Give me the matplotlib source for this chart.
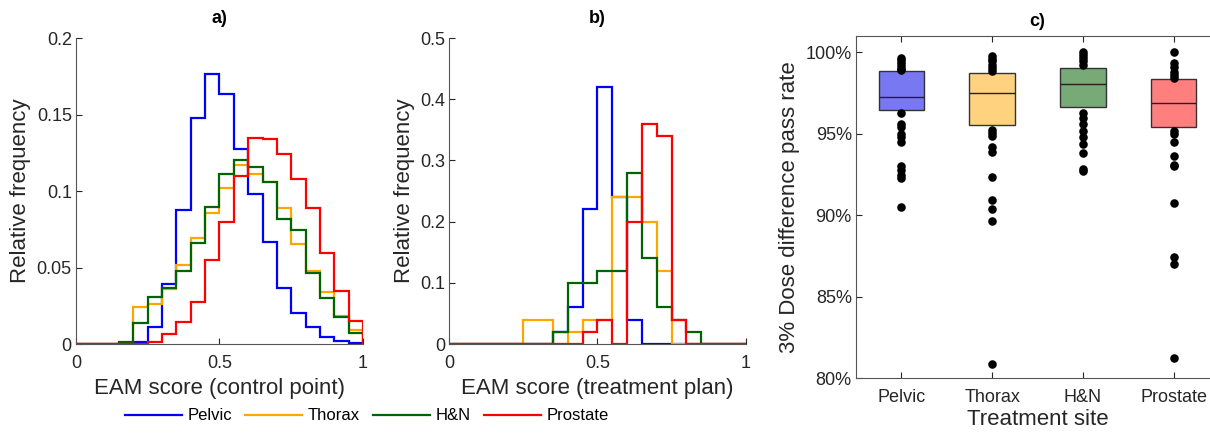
import matplotlib
matplotlib.use('Agg')
import matplotlib.pyplot as plt
import numpy as np

plt.rcParams['font.family'] = ['Liberation Sans', 'DejaVu Sans']

# histogram bins (0 .. 1, width 0.05)
edges = np.linspace(0, 1, 21)
sites = ['Pelvic', 'Thorax', 'H&N', 'Prostate']
line_colors = ['#0000ff', '#ffa500', '#006400', '#ff0000']
box_colors = ['#7878f2', '#ffd27f', '#78aa78', '#ff7f7f']

# a) relative frequency per control point
cp_pelvic = [0, 0, 0, 0, 0.0015, 0.0109, 0.039, 0.0878, 0.148, 0.1765,
             0.1635, 0.1276, 0.0983, 0.0667, 0.0367, 0.02, 0.0113, 0.0043, 0.0022, 0.0009]
cp_thorax = [0, 0, 0, 0, 0.0243, 0.0259, 0.0357, 0.0515, 0.0696, 0.0859,
             0.102, 0.1167, 0.111, 0.1059, 0.0891, 0.0652, 0.0478, 0.0341, 0.0183, 0.0091]
cp_hn = [0, 0, 0, 0.0015, 0.0139, 0.0309, 0.0363, 0.0476, 0.0657, 0.0896,
         0.1109, 0.12, 0.1157, 0.1059, 0.082, 0.0743, 0.0461, 0.0298, 0.0174, 0.007]
cp_prostate = [0, 0, 0, 0, 0, 0.001, 0.0063, 0.0141, 0.0276, 0.0552,
               0.0798, 0.1096, 0.1346, 0.1341, 0.1239, 0.108, 0.0889, 0.0598, 0.0348, 0.0152]

# b) relative frequency per treatment plan
tp_pelvic = [0, 0, 0, 0, 0, 0, 0, 0.02, 0.06, 0.22,
             0.42, 0.24, 0.04, 0, 0, 0, 0, 0, 0, 0]
tp_thorax = [0, 0, 0, 0, 0, 0.04, 0.04, 0, 0.02, 0.04,
             0.04, 0.24, 0.24, 0.2, 0.12, 0, 0, 0, 0, 0]
tp_hn = [0, 0, 0, 0, 0, 0, 0, 0.02, 0.1, 0.1,
         0.12, 0.12, 0.28, 0.14, 0.06, 0.04, 0.02, 0, 0, 0]
tp_prostate = [0, 0, 0, 0, 0, 0, 0, 0, 0, 0.02,
               0.04, 0, 0.2, 0.36, 0.34, 0.04, 0, 0, 0, 0]

# c) 3% dose difference pass rate: box (q1, median, q3) and single points
box_q1 = [96.45, 95.53, 96.62, 95.43]
box_med = [97.27, 97.48, 98.03, 96.88]
box_q3 = [98.83, 98.75, 99.02, 98.34]
pts_pelvic = [99.65, 99.5, 99.35, 99.15, 99.0, 98.9, 96.3, 95.6, 95.4, 95.0, 94.8,
              94.5, 93.0, 92.8, 92.5, 92.3, 90.5]
pts_thorax = [99.75, 99.6, 99.45, 99.25, 99.05, 98.85, 95.25, 95.05, 94.85, 94.2,
              93.9, 92.35, 90.95, 90.4, 89.65, 80.9]
pts_hn = [100.0, 99.85, 99.65, 99.45, 99.25, 96.3, 95.95, 95.6, 95.15, 94.8, 94.4,
          93.85, 92.85, 92.7]
pts_prostate = [100.0, 99.35, 99.1, 98.8, 98.6, 98.45, 95.2, 95.0, 94.5, 93.65,
                93.1, 93.0, 90.75, 87.45, 87.0, 81.25]

fig = plt.figure(figsize=(12.1, 4.33), dpi=100)
ax_a = fig.add_axes([0.0628, 0.2055, 0.2372, 0.7067])
ax_b = fig.add_axes([0.3713, 0.2055, 0.245, 0.7067])
ax_c = fig.add_axes([0.7074, 0.1263, 0.3, 0.7905])

spine_col = '#262626'


def style_hist(ax, ymax, ystep, xlabel, title):
    ax.set_xlim(0, 1)
    ax.set_ylim(0, ymax)
    ax.set_xticks([0, 0.5, 1])
    ax.set_xticklabels(['0', '0.5', '1'])
    yt = np.round(np.arange(0, ymax + ystep / 2, ystep), 3)
    ax.set_yticks(yt)
    ax.set_yticklabels(['{:g}'.format(v) for v in yt])
    for s in ['top', 'right']:
        ax.spines[s].set_visible(False)
    for s in ['left', 'bottom']:
        ax.spines[s].set_color('#555555')
    ax.tick_params(direction='in', length=4, labelsize=13, colors=spine_col)
    ax.tick_params(axis='x', pad=8)
    ax.tick_params(axis='y', pad=3)
    ax.set_xlabel(xlabel, fontsize=16, color=spine_col, labelpad=4)
    ax.set_ylabel('Relative frequency', fontsize=16, color=spine_col, labelpad=4)
    ax.set_title(title, fontsize=13, fontweight='bold', pad=11)


cp_data = [cp_pelvic, cp_thorax, cp_hn, cp_prostate]
tp_data = [tp_pelvic, tp_thorax, tp_hn, tp_prostate]
for vals, col, name in zip(cp_data, line_colors, sites):
    ax_a.stairs(vals, edges, color=col, lw=1.6, label=name)
for vals, col in zip(tp_data, line_colors):
    ax_b.stairs(vals, edges, color=col, lw=1.6)

style_hist(ax_a, 0.2, 0.05, 'EAM score (control point)', 'a)')
style_hist(ax_b, 0.5, 0.1, 'EAM score (treatment plan)', 'b)')

handles = [plt.Line2D([], [], color=c, lw=1.6) for c in line_colors]
fig.legend(handles, sites, loc='center', bbox_to_anchor=(367 / 1210, 1 - 416 / 433),
           ncol=4, frameon=False, fontsize=12, handlelength=3.4, handletextpad=0.35,
           columnspacing=0.8)

# c) box chart
xpos = np.arange(1, 5)
heights = np.array(box_q3) - np.array(box_q1)
ax_c.bar(xpos, heights, bottom=box_q1, width=0.5, color=box_colors,
         edgecolor='#333333', linewidth=1.0, zorder=2)
ax_c.hlines(box_med, xpos - 0.25, xpos + 0.25, color='#222222', lw=1.0, zorder=3)
for x, pts in zip(xpos, [pts_pelvic, pts_thorax, pts_hn, pts_prostate]):
    ax_c.scatter(np.full(len(pts), x), pts, s=38, color='black', zorder=4, linewidths=0)

ax_c.set_xlim(0.5, 4.5)
ax_c.set_ylim(80, 101)
ax_c.set_xticks(xpos)
ax_c.set_xticklabels(sites)
ax_c.set_yticks([80, 85, 90, 95, 100])
ax_c.set_yticklabels(['80%', '85%', '90%', '95%', '100%'])
for s in ax_c.spines.values():
    s.set_color('#555555')
ax_c.tick_params(direction='in', length=4, labelsize=13, colors=spine_col,
                 top=True, right=True)
ax_c.tick_params(axis='x', pad=8)
ax_c.tick_params(axis='y', pad=3)
ax_c.set_xlabel('Treatment site', fontsize=16, color=spine_col, labelpad=2)
ax_c.set_ylabel('3% Dose difference pass rate', fontsize=16, color=spine_col, labelpad=4)
ax_c.set_title('c)', fontsize=13, fontweight='bold', pad=7)

fig.savefig('out.png', dpi=100)
